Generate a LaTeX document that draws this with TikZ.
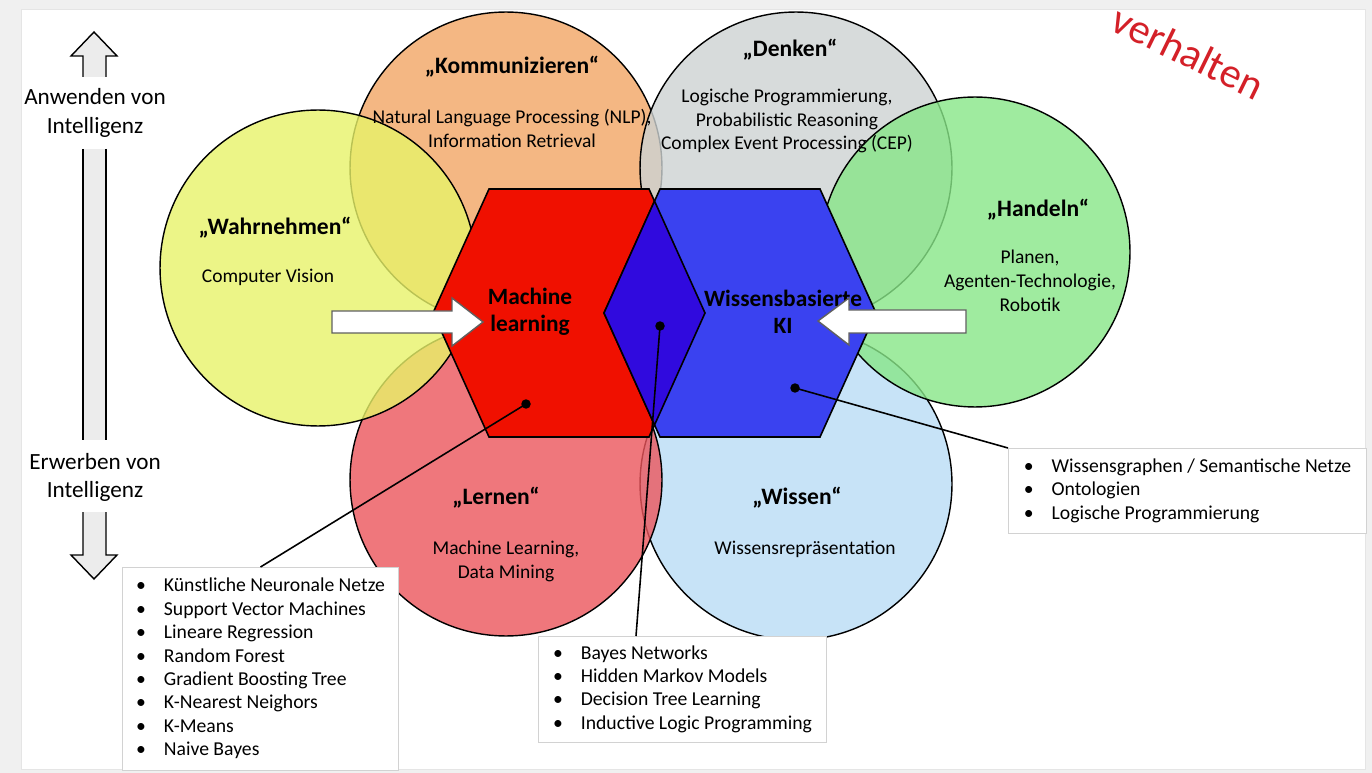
\documentclass[tikz,border=0pt]{standalone}
\usepackage{fontspec}
\setmainfont{Carlito}
\usetikzlibrary{positioning,calc}

\definecolor{wahrCol}{RGB}{232,243,105}
\definecolor{kommCol}{RGB}{242,165,100}
\definecolor{denkCol}{RGB}{205,211,211}
\definecolor{handCol}{RGB}{136,230,136}
\definecolor{lernCol}{RGB}{236,86,92}
\definecolor{wissCol}{RGB}{186,221,246}
\definecolor{mlRed}{RGB}{240,16,0}
\definecolor{kiBlue}{RGB}{58,66,240}
\definecolor{ovBlue}{RGB}{48,10,222}
\definecolor{verhRed}{RGB}{212,32,40}
\definecolor{frameGray}{RGB}{240,240,240}

\begin{document}
\begin{tikzpicture}[
  x=0.02cm, y=-0.02cm,
  font=\fontsize{11}{13.5}\selectfont,
  area/.style={circle, draw, line width=0.8pt, fill opacity=0.8,
               inner sep=0pt, minimum size=6.24cm},
  areaTitle/.style={font=\fontsize{13.4}{16}\selectfont\bfseries},
  areaText/.style={align=center, font=\fontsize{11.1}{13.6}\selectfont},
  hexTitle/.style={align=center, font=\fontsize{13.3}{15.5}\selectfont\bfseries},
  listbox/.style={draw=gray!35, fill=white, line width=0.6pt, inner sep=0pt,
                  font=\fontsize{11.2}{13.3}\selectfont},
  sideLabel/.style={align=center, font=\fontsize{13.2}{16}\selectfont},
  hollow/.style={draw=gray!75!black, fill=white, line width=0.8pt},
  shaft/.style={fill=gray!15},
  dot/.style={circle, fill=black, inner sep=0pt, minimum size=0.19cm},
  leader/.style={line width=0.9pt},
]
\useasboundingbox (0,0) rectangle (1372,773);
\fill[frameGray] (0,0) rectangle (1372,773);
\draw[gray!20, fill=white] (21,9) rectangle (1365,769);

% circles
\node[area, fill=kommCol] (komm) at (506,168) {};
\node[area, fill=denkCol] (denk) at (796,168) {};
\node[area, fill=wissCol] (wiss) at (796,484) {};
\node[area, fill=lernCol] (lern) at (506,480) {};
\node[area, fill=wahrCol, minimum size=6.32cm] (wahr) at (318,268) {};
\node[area, fill=handCol, minimum size=6.2cm] (hand) at (975,252) {};

\node[areaTitle] (wahrT) at (275,228) {„Wahrnehmen“};
\node[areaText]  (wahrS) at (268,277) {Computer Vision};
\node[areaTitle] (kommT) at (512,67) {„Kommunizieren“};
\node[areaText]  (kommS) at (512,128) {Natural Language Processing (NLP),\\Information Retrieval};
\node[areaTitle] (denkT) at (790,50) {„Denken“};
\node[areaText]  (denkS) at (787,121) {Logische Programmierung,\\Probabilistic Reasoning\\Complex Event Processing (CEP)};
\node[areaTitle] (handT) at (1038,210) {„Handeln“};
\node[areaText]  (handS) at (1030,281) {Planen,\\Agenten-Technologie,\\Robotik};
\node[areaTitle] (lernT) at (496,498) {„Lernen“};
\node[areaText]  (lernS) at (506,561) {Machine Learning,\\Data Mining};
\node[areaTitle] (wissT) at (797,498) {„Wissen“};
\node[areaText]  (wissS) at (805,549) {Wissensrepräsentation};

% hexagons
\coordinate (mlc) at (569,313);
\coordinate (kic) at (740,313);
\draw[fill=mlRed, line width=0.9pt] (mlc) ++(-136,0) -- ++(56,-124) -- ++(160,0)
  -- ++(56,124) -- ++(-56,124) -- ++(-160,0) -- cycle;
\draw[fill=kiBlue, line width=0.9pt] (kic) ++(-136,0) -- ++(56,-124) -- ++(160,0)
  -- ++(56,124) -- ++(-56,124) -- ++(-160,0) -- cycle;
\draw[fill=ovBlue, line width=0.9pt] (654.5,201) -- (705,313) -- (654.5,425) -- (604,313) -- cycle;

\node[hexTitle] (ml) at (530,312) {Machine\\learning};
\node[hexTitle] (ki) at (783,312) {Wissensbasierte\\KI};

% white arrows
\draw[hollow] (332,311) -- (452,311) -- (452,298) -- (483,322)
  -- (452,346) -- (452,333) -- (332,333) -- cycle;
\draw[hollow] (966,310) -- (849,310) -- (849,298) -- (818,321)
  -- (849,345) -- (849,333) -- (966,333) -- cycle;

% left axis
\fill[shaft] (83,77) -- (83,56) -- (71,56) -- (94,32) -- (117,56) -- (106,56) -- (106,77) -- cycle;
\draw[line width=0.8pt] (83,77) -- (83,56) -- (71,56) -- (94,32) -- (117,56) -- (106,56) -- (106,77);
\fill[shaft] (83,149) rectangle (106,440);
\draw[line width=0.8pt] (83,149) -- (83,440) (106,149) -- (106,440);
\fill[shaft] (83,512) -- (83,555) -- (71,555) -- (94,579) -- (117,555) -- (106,555) -- (106,512) -- cycle;
\draw[line width=0.8pt] (83,512) -- (83,555) -- (71,555) -- (94,579) -- (117,555) -- (106,555) -- (106,512);
\node[sideLabel] (anw) at (95,113) {Anwenden von\\Intelligenz};
\node[sideLabel] (erw) at (95,477) {Erwerben von\\Intelligenz};

% lists
\node[listbox, minimum width=5.52cm, minimum height=4.06cm, anchor=north west] (mlbox) at (122,567) {%
  \begin{tabular}{@{}l@{\hspace{0.36cm}}l@{}}
  • & Künstliche Neuronale Netze\\
  • & Support Vector Machines\\
  • & Lineare Regression\\
  • & Random Forest\\
  • & Gradient Boosting Tree\\
  • & K-Nearest Neighors\\
  • & K-Means\\
  • & Naive Bayes
  \end{tabular}};
\node[listbox, minimum width=5.76cm, minimum height=2.12cm, anchor=north west] (ovbox) at (538,636) {%
  \begin{tabular}{@{}l@{\hspace{0.36cm}}l@{}}
  • & Bayes Networks\\
  • & Hidden Markov Models\\
  • & Decision Tree Learning\\
  • & Inductive Logic Programming
  \end{tabular}};
\node[listbox, minimum width=7.16cm, minimum height=1.7cm, anchor=north west] (kibox) at (1008,448) {%
  \begin{tabular}{@{}l@{\hspace{0.36cm}}l@{}}
  • & Wissensgraphen / Semantische Netze\\
  • & Ontologien\\
  • & Logische Programmierung
  \end{tabular}};

\node[dot] (mldot) at (526,404) {};
\node[dot] (ovdot) at (660,326) {};
\node[dot] (kidot) at (795,388) {};
\coordinate (ovend) at (636,636);
\draw[leader] (mldot.center) -- (mlbox.north);
\draw[leader] (ovdot.center) -- (ovend);
\draw[leader] (kidot.center) -- (kibox.north west);

\node[rotate=-26, text=verhRed, font=\fontsize{24}{28}\selectfont] (verh) at (1188,52) {verhalten};
\end{tikzpicture}
\end{document}
